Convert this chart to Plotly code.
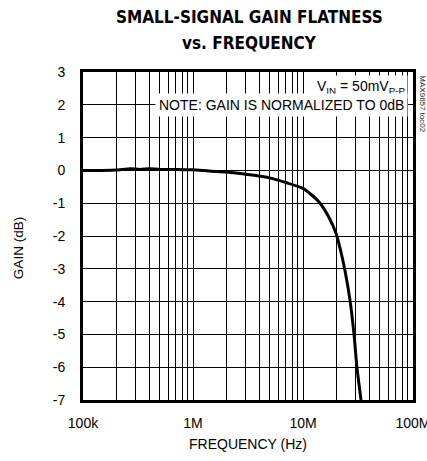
import plotly.graph_objects as go

# Data
freq_hz = [100e3, 150e3, 200e3, 270e3, 330e3, 400e3, 500e3, 700e3, 1e6, 1.4e6, 2e6,
           2.8e6, 4e6, 5.3e6, 7e6, 10e6, 12e6, 14.3e6, 17e6, 20e6, 22e6, 24e6,
           26.7e6, 29.1e6, 30.9e6, 33.7e6]
gain_db = [0.0, 0.0, 0.01, 0.05, 0.03, 0.05, 0.03, 0.03, 0.02, -0.02, -0.05,
           -0.1, -0.17, -0.25, -0.37, -0.55, -0.75, -1.0, -1.4, -1.92, -2.45, -3.03,
           -3.94, -5.0, -6.0, -7.0]

decades = [1e5, 1e6, 1e7, 1e8]
decade_labels = ["100k", "1M", "10M", "100M"]
y_ticks = [3, 2, 1, 0, -1, -2, -3, -4, -5, -6, -7]

x_vals, x_text = [], []
for d, lab in zip(decades, decade_labels):
    x_vals.append(d)
    x_text.append(lab)
    if d < 1e8:
        for m in range(2, 10):
            x_vals.append(d * m)
            x_text.append("")

FONT = "Liberation Sans, Arial, sans-serif"
TFONT = "DejaVu Sans Condensed, Liberation Sans, sans-serif"

fig = go.Figure()
fig.add_trace(go.Scatter(x=freq_hz, y=gain_db, mode="lines",
                         line=dict(color="black", width=3, shape="spline", smoothing=0.6),
                         showlegend=False, hoverinfo="skip"))

fig.update_layout(
    width=427, height=461,
    margin=dict(l=83, r=14, t=72, b=61, autoexpand=False),
    paper_bgcolor="white", plot_bgcolor="white",
    font=dict(family=FONT, size=14, color="black"),
)

fig.update_xaxes(type="log", range=[5, 8], tickmode="array", tickvals=x_vals, ticktext=x_text,
                 showgrid=True, gridcolor="black", gridwidth=1,
                 showline=True, linecolor="black", linewidth=3, mirror=True,
                 ticks="", ticklabelstandoff=8, automargin=False,
                 ticklabeloverflow="allow",
                 title=dict(text="FREQUENCY (Hz)", standoff=10, font=dict(size=14)),
                 zeroline=False)
fig.update_yaxes(range=[-7, 3], tickmode="array", tickvals=y_ticks,
                 ticktext=[str(v) for v in y_ticks],
                 showgrid=True, gridcolor="black", gridwidth=1,
                 showline=True, linecolor="black", linewidth=3, mirror=True,
                 ticks="", ticklabelstandoff=12, automargin=False,
                 zeroline=False)

# y-axis title
fig.add_annotation(xref="paper", yref="paper", x=-0.197, y=0.463, xanchor="center", yanchor="middle",
                   text="GAIN (dB)", textangle=-90, showarrow=False, font=dict(size=13.5))

fig.add_annotation(xref="paper", yref="paper", x=0.505, y=1.168, xanchor="center", yanchor="middle",
                   text="<b>SMALL-SIGNAL GAIN FLATNESS</b>", showarrow=False,
                   font=dict(family=TFONT, size=17, color="black"))
fig.add_annotation(xref="paper", yref="paper", x=0.505, y=1.088, xanchor="center", yanchor="middle",
                   text="<b>vs. FREQUENCY</b>", showarrow=False,
                   font=dict(family=TFONT, size=17, color="black"))

fig.add_annotation(xref="paper", yref="paper", x=0.985, y=0.955, xanchor="right", yanchor="middle",
                   text="V<sub>IN</sub> = 50mV<sub>P-P</sub>", showarrow=False,
                   bgcolor="white", borderpad=2, font=dict(size=14))
fig.add_annotation(xref="paper", yref="paper", x=0.985, y=0.9, xanchor="right", yanchor="middle",
                   text="NOTE: GAIN IS NORMALIZED TO 0dB", showarrow=False,
                   bgcolor="white", borderpad=3, font=dict(size=14))
fig.add_annotation(xref="paper", yref="paper", x=1.008, y=0.997, xanchor="left", yanchor="top",
                   text="MAX9657 toc02", textangle=90, showarrow=False,
                   font=dict(size=8, color="#222222"))

fig.write_html("out.html", config={"displayModeBar": False},
               post_script="document.body.style.margin='0';document.body.style.overflow='hidden';")
